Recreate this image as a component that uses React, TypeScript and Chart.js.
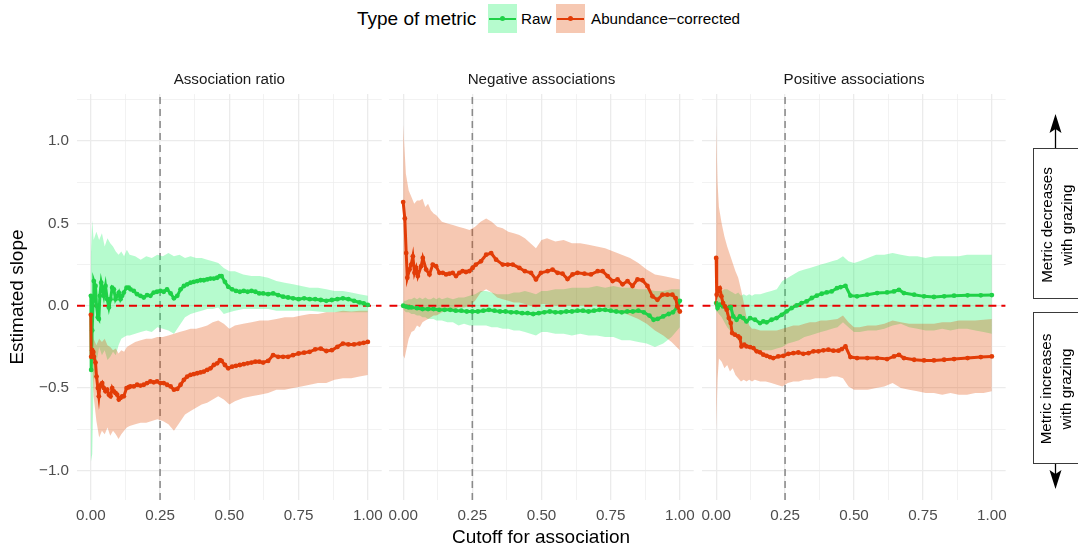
import React, { useEffect, useRef } from 'react';
import { Chart, registerables } from 'chart.js';

Chart.register(...registerables);

const FONT = "'Liberation Sans', Arial, Helvetica, sans-serif";
Chart.defaults.font.family = FONT;

// ---------------- data ----------------
const panelTitles = ['Association ratio', 'Negative associations', 'Positive associations'];
const seriesNames = ['Raw', 'Abundance\u2212corrected'];
const xTickValues = [0, 0.125, 0.25, 0.375, 0.5, 0.625, 0.75, 0.875, 1];
const yTickValues = [-1, -0.75, -0.5, -0.25, 0, 0.25, 0.5, 0.75, 1, 1.25];
const cutoffLine = 0.25;
const zeroLine = 0;

// shared cutoff grid for the confidence ribbons
const ribbonCutoffs = [0, 0.005, 0.01, 0.02, 0.03, 0.04, 0.05, 0.06, 0.07, 0.08, 0.09, 0.1, 0.11, 0.12, 0.13, 0.14, 0.16, 0.18, 0.2, 0.22, 0.24, 0.26, 0.28, 0.3, 0.32, 0.34, 0.36, 0.38, 0.4, 0.42, 0.44, 0.46, 0.48, 0.5, 0.52, 0.55, 0.58, 0.61, 0.64, 0.67, 0.7, 0.73, 0.76, 0.79, 0.82, 0.85, 0.88, 0.91, 0.94, 0.97, 1];

// Panel 1: Association ratio
const ratioCutoffs = [0, 0.0012, 0.0048, 0.0084, 0.0108, 0.0168, 0.0205, 0.0253, 0.0289, 0.0325, 0.0373, 0.0409, 0.0469, 0.0529, 0.059, 0.065, 0.071, 0.077, 0.083, 0.089, 0.095, 0.101, 0.107, 0.113, 0.119, 0.129, 0.137, 0.143, 0.155, 0.167, 0.179, 0.191, 0.203, 0.215, 0.227, 0.239, 0.251, 0.263, 0.275, 0.288, 0.3, 0.312, 0.324, 0.336, 0.348, 0.36, 0.372, 0.384, 0.396, 0.408, 0.42, 0.432, 0.444, 0.456, 0.466, 0.472, 0.484, 0.496, 0.51, 0.524, 0.538, 0.552, 0.566, 0.58, 0.594, 0.608, 0.622, 0.64, 0.658, 0.676, 0.694, 0.712, 0.73, 0.75, 0.77, 0.79, 0.81, 0.83, 0.85, 0.87, 0.89, 0.91, 0.93, 0.95, 0.97, 0.985, 1];
const ratioRaw = [0.06, -0.39, -0.15, 0.03, 0.15, 0.12, 0.0, -0.07, -0.08, 0.06, 0.14, 0.11, 0.06, 0.12, 0.04, -0.01, 0.04, 0.11, 0.1, 0.04, 0.06, 0.08, 0.04, 0.06, 0.08, 0.11, 0.11, 0.1, 0.09, 0.07, 0.06, 0.05, 0.065, 0.06, 0.08, 0.085, 0.09, 0.085, 0.1, 0.075, 0.045, 0.06, 0.1, 0.12, 0.13, 0.14, 0.145, 0.15, 0.155, 0.155, 0.16, 0.165, 0.165, 0.17, 0.18, 0.18, 0.145, 0.115, 0.1, 0.09, 0.085, 0.09, 0.085, 0.09, 0.085, 0.075, 0.075, 0.07, 0.075, 0.065, 0.055, 0.05, 0.045, 0.04, 0.045, 0.04, 0.04, 0.035, 0.03, 0.035, 0.04, 0.045, 0.04, 0.03, 0.02, 0.015, 0.005];
const ratioCorrected = [-0.055, -0.31, -0.27, -0.28, -0.31, -0.345, -0.43, -0.5, -0.55, -0.49, -0.48, -0.47, -0.5, -0.52, -0.51, -0.54, -0.55, -0.5, -0.52, -0.53, -0.54, -0.57, -0.56, -0.55, -0.55, -0.5, -0.495, -0.49, -0.49, -0.48, -0.485, -0.48, -0.47, -0.46, -0.465, -0.46, -0.47, -0.47, -0.48, -0.49, -0.51, -0.505, -0.48, -0.45, -0.43, -0.42, -0.415, -0.41, -0.405, -0.4, -0.39, -0.38, -0.36, -0.35, -0.33, -0.335, -0.36, -0.38, -0.37, -0.365, -0.36, -0.355, -0.35, -0.345, -0.34, -0.34, -0.345, -0.335, -0.3, -0.31, -0.31, -0.31, -0.3, -0.29, -0.285, -0.28, -0.265, -0.26, -0.275, -0.27, -0.25, -0.23, -0.235, -0.235, -0.23, -0.225, -0.22];
const ratioRawUpper = [0.3, 0.52, 0.4, 0.45, 0.4, 0.44, 0.36, 0.41, 0.38, 0.36, 0.33, 0.31, 0.33, 0.3, 0.34, 0.31, 0.3, 0.28, 0.3, 0.29, 0.31, 0.3, 0.32, 0.3, 0.31, 0.29, 0.3, 0.29, 0.29, 0.28, 0.27, 0.26, 0.23, 0.21, 0.21, 0.19, 0.18, 0.18, 0.17, 0.15, 0.14, 0.13, 0.12, 0.11, 0.11, 0.1, 0.09, 0.09, 0.08, 0.07, 0.06];
const ratioRawLower = [-0.95, -0.9, -0.45, -0.35, -0.25, -0.3, -0.27, -0.33, -0.31, -0.28, -0.3, -0.24, -0.2, -0.19, -0.18, -0.18, -0.17, -0.16, -0.15, -0.16, -0.13, -0.14, -0.15, -0.17, -0.12, -0.07, -0.05, -0.04, -0.03, -0.02, -0.02, -0.01, -0.05, -0.04, -0.03, -0.02, -0.02, -0.02, -0.02, -0.03, -0.03, -0.03, -0.03, -0.03, -0.035, -0.04, -0.04, -0.04, -0.04, -0.04, -0.04];
const ratioCorrUpper = [0.0, -0.15, -0.2, -0.24, -0.2, -0.22, -0.2, -0.24, -0.25, -0.27, -0.26, -0.29, -0.27, -0.28, -0.25, -0.24, -0.22, -0.21, -0.2, -0.2, -0.19, -0.19, -0.18, -0.17, -0.16, -0.15, -0.14, -0.14, -0.13, -0.12, -0.1, -0.09, -0.11, -0.14, -0.12, -0.11, -0.1, -0.09, -0.09, -0.08, -0.07, -0.07, -0.06, -0.05, -0.05, -0.04, -0.04, -0.03, -0.035, -0.03, -0.03];
const ratioCorrLower = [-0.1, -0.35, -0.55, -0.7, -0.8, -0.76, -0.78, -0.74, -0.79, -0.76, -0.78, -0.81, -0.78, -0.76, -0.74, -0.73, -0.72, -0.71, -0.71, -0.7, -0.69, -0.7, -0.72, -0.76, -0.71, -0.66, -0.64, -0.62, -0.6, -0.59, -0.57, -0.55, -0.57, -0.6, -0.58, -0.56, -0.55, -0.54, -0.53, -0.51, -0.51, -0.5, -0.49, -0.48, -0.47, -0.47, -0.45, -0.44, -0.44, -0.43, -0.42];

// Panel 2: Negative associations
const negRawCutoffs = [0, 0.01, 0.02, 0.03, 0.05, 0.07, 0.09, 0.11, 0.13, 0.15, 0.17, 0.19, 0.21, 0.23, 0.25, 0.27, 0.29, 0.31, 0.33, 0.35, 0.37, 0.39, 0.41, 0.43, 0.45, 0.47, 0.49, 0.51, 0.53, 0.55, 0.57, 0.59, 0.61, 0.63, 0.65, 0.67, 0.69, 0.71, 0.73, 0.75, 0.77, 0.79, 0.81, 0.83, 0.85, 0.87, 0.89, 0.905, 0.92, 0.94, 0.96, 0.975, 0.99, 1];
const negRaw = [0, -0.005, -0.01, -0.01, -0.015, -0.02, -0.02, -0.02, -0.025, -0.025, -0.025, -0.03, -0.03, -0.035, -0.035, -0.035, -0.03, -0.025, -0.03, -0.035, -0.035, -0.04, -0.04, -0.045, -0.045, -0.05, -0.045, -0.04, -0.035, -0.04, -0.04, -0.035, -0.035, -0.03, -0.03, -0.035, -0.03, -0.025, -0.025, -0.03, -0.035, -0.04, -0.035, -0.035, -0.03, -0.04, -0.06, -0.085, -0.08, -0.065, -0.05, -0.04, -0.01, 0.03];
const negCorrCutoffs = [0, 0.006, 0.011, 0.015, 0.023, 0.029, 0.035, 0.041, 0.047, 0.053, 0.065, 0.071, 0.083, 0.095, 0.107, 0.119, 0.131, 0.143, 0.155, 0.167, 0.179, 0.191, 0.203, 0.215, 0.227, 0.239, 0.251, 0.263, 0.281, 0.3, 0.318, 0.336, 0.36, 0.378, 0.396, 0.42, 0.44, 0.462, 0.48, 0.498, 0.522, 0.54, 0.558, 0.576, 0.594, 0.612, 0.63, 0.655, 0.679, 0.703, 0.721, 0.739, 0.757, 0.775, 0.793, 0.811, 0.829, 0.847, 0.865, 0.883, 0.901, 0.919, 0.937, 0.955, 0.973, 0.985, 0.991, 1];
const negCorrected = [0.63, 0.53, 0.32, 0.17, 0.22, 0.25, 0.3, 0.2, 0.23, 0.18, 0.24, 0.29, 0.22, 0.19, 0.25, 0.24, 0.2, 0.2, 0.19, 0.195, 0.2, 0.18, 0.2, 0.21, 0.205, 0.21, 0.23, 0.25, 0.27, 0.31, 0.32, 0.28, 0.25, 0.25, 0.25, 0.23, 0.21, 0.2, 0.16, 0.2, 0.21, 0.22, 0.2, 0.195, 0.162, 0.19, 0.2, 0.195, 0.19, 0.21, 0.21, 0.18, 0.15, 0.16, 0.13, 0.15, 0.12, 0.16, 0.155, 0.12, 0.057, 0.036, 0.067, 0.067, 0.067, 0.046, -0.004, -0.035];
const negRawUpper = [0.02, 0.03, 0.03, 0.04, 0.04, 0.05, 0.04, 0.05, 0.04, 0.05, 0.04, 0.04, 0.05, 0.04, 0.05, 0.04, 0.05, 0.04, 0.05, 0.05, 0.06, 0.07, 0.09, 0.09, 0.08, 0.07, 0.07, 0.07, 0.08, 0.08, 0.09, 0.08, 0.07, 0.09, 0.09, 0.1, 0.1, 0.11, 0.11, 0.11, 0.12, 0.11, 0.12, 0.11, 0.11, 0.1, 0.1, 0.09, 0.09, 0.1, 0.1];
const negRawLower = [-0.02, -0.03, -0.04, -0.04, -0.05, -0.05, -0.06, -0.06, -0.07, -0.07, -0.08, -0.08, -0.08, -0.09, -0.09, -0.09, -0.1, -0.1, -0.12, -0.11, -0.12, -0.12, -0.12, -0.12, -0.13, -0.13, -0.14, -0.14, -0.15, -0.15, -0.16, -0.17, -0.18, -0.16, -0.16, -0.17, -0.17, -0.18, -0.17, -0.18, -0.18, -0.19, -0.19, -0.21, -0.21, -0.22, -0.23, -0.25, -0.23, -0.19, -0.13];
const negCorrUpper = [1.1, 0.95, 0.8, 0.7, 0.66, 0.62, 0.64, 0.64, 0.65, 0.6, 0.62, 0.58, 0.56, 0.55, 0.53, 0.51, 0.5, 0.49, 0.48, 0.47, 0.46, 0.48, 0.51, 0.53, 0.51, 0.48, 0.47, 0.45, 0.44, 0.43, 0.41, 0.38, 0.35, 0.4, 0.41, 0.39, 0.4, 0.38, 0.38, 0.37, 0.36, 0.35, 0.33, 0.31, 0.29, 0.26, 0.22, 0.19, 0.18, 0.17, 0.16];
const negCorrLower = [-0.3, -0.32, -0.28, -0.2, -0.16, -0.15, -0.12, -0.13, -0.1, -0.09, -0.08, -0.07, -0.06, -0.06, -0.05, -0.04, -0.03, -0.03, -0.01, -0.01, 0, 0.03, 0.08, 0.1, 0.08, 0.05, 0.04, 0.03, 0.02, 0.02, 0.01, 0, -0.01, 0.01, 0.01, 0, 0, 0, 0, 0, 0, -0.01, -0.02, -0.04, -0.06, -0.08, -0.11, -0.15, -0.18, -0.22, -0.27];

// Panel 3: Positive associations
const posRawCutoffs = [0, 0.005, 0.013, 0.025, 0.044, 0.053, 0.062, 0.074, 0.086, 0.098, 0.11, 0.123, 0.141, 0.159, 0.171, 0.183, 0.201, 0.219, 0.238, 0.256, 0.274, 0.292, 0.31, 0.328, 0.347, 0.365, 0.383, 0.401, 0.419, 0.438, 0.451, 0.469, 0.487, 0.511, 0.548, 0.584, 0.62, 0.645, 0.663, 0.681, 0.718, 0.754, 0.79, 0.827, 0.863, 0.912, 0.96, 1];
const posRaw = [0.016, -0.014, 0.006, -0.004, -0.014, -0.008, -0.065, -0.085, -0.065, -0.075, -0.095, -0.075, -0.085, -0.105, -0.095, -0.101, -0.085, -0.075, -0.055, -0.034, -0.014, 0.002, 0.016, 0.026, 0.047, 0.061, 0.073, 0.081, 0.087, 0.107, 0.113, 0.121, 0.061, 0.057, 0.067, 0.077, 0.081, 0.087, 0.097, 0.077, 0.067, 0.057, 0.053, 0.057, 0.061, 0.063, 0.063, 0.065];
const posCorrCutoffs = [0, 0.002, 0.007, 0.013, 0.019, 0.025, 0.032, 0.038, 0.046, 0.053, 0.058, 0.068, 0.08, 0.086, 0.092, 0.102, 0.11, 0.123, 0.135, 0.147, 0.159, 0.171, 0.183, 0.195, 0.207, 0.225, 0.244, 0.262, 0.28, 0.298, 0.316, 0.335, 0.353, 0.371, 0.389, 0.407, 0.425, 0.444, 0.456, 0.469, 0.487, 0.511, 0.548, 0.584, 0.62, 0.645, 0.663, 0.681, 0.718, 0.754, 0.79, 0.827, 0.863, 0.912, 0.96, 1];
const posCorrected = [0.29, 0.067, 0.097, 0.107, 0.057, 0.016, -0.004, -0.024, -0.075, -0.105, -0.166, -0.176, -0.186, -0.196, -0.247, -0.237, -0.247, -0.251, -0.257, -0.277, -0.283, -0.297, -0.304, -0.312, -0.318, -0.308, -0.304, -0.292, -0.288, -0.284, -0.292, -0.288, -0.277, -0.277, -0.271, -0.267, -0.273, -0.273, -0.263, -0.247, -0.312, -0.318, -0.318, -0.318, -0.324, -0.308, -0.298, -0.318, -0.328, -0.332, -0.332, -0.328, -0.324, -0.318, -0.312, -0.308];
const posRawUpper = [0.06, 0.08, 0.07, 0.09, 0.1, 0.1, 0.09, 0.08, 0.07, 0.08, 0.06, 0.07, 0.06, 0.07, 0.06, 0.07, 0.07, 0.08, 0.09, 0.1, 0.15, 0.17, 0.19, 0.21, 0.22, 0.23, 0.24, 0.25, 0.26, 0.27, 0.28, 0.3, 0.27, 0.26, 0.27, 0.29, 0.31, 0.31, 0.32, 0.31, 0.3, 0.3, 0.29, 0.3, 0.3, 0.3, 0.3, 0.31, 0.31, 0.31, 0.31];
const posRawLower = [-0.03, -0.04, -0.05, -0.07, -0.1, -0.13, -0.15, -0.17, -0.19, -0.21, -0.23, -0.24, -0.25, -0.26, -0.26, -0.27, -0.27, -0.27, -0.27, -0.26, -0.25, -0.23, -0.22, -0.21, -0.19, -0.18, -0.17, -0.16, -0.15, -0.14, -0.13, -0.1, -0.13, -0.16, -0.16, -0.15, -0.15, -0.14, -0.12, -0.11, -0.13, -0.14, -0.15, -0.15, -0.14, -0.15, -0.14, -0.14, -0.15, -0.16, -0.17];
const posCorrUpper = [1.1, 0.75, 0.6, 0.5, 0.42, 0.36, 0.31, 0.26, 0.21, 0.17, 0.1, 0.02, -0.07, -0.12, -0.14, -0.14, -0.15, -0.15, -0.15, -0.15, -0.14, -0.13, -0.12, -0.12, -0.11, -0.1, -0.1, -0.09, -0.09, -0.085, -0.08, -0.06, -0.1, -0.13, -0.13, -0.12, -0.12, -0.11, -0.09, -0.1, -0.11, -0.11, -0.11, -0.11, -0.1, -0.1, -0.09, -0.09, -0.09, -0.085, -0.08];
const posCorrLower = [-0.75, -0.45, -0.32, -0.34, -0.38, -0.36, -0.4, -0.38, -0.42, -0.44, -0.46, -0.45, -0.46, -0.45, -0.46, -0.45, -0.46, -0.46, -0.47, -0.48, -0.49, -0.47, -0.46, -0.46, -0.45, -0.45, -0.44, -0.44, -0.44, -0.43, -0.43, -0.44, -0.49, -0.51, -0.51, -0.51, -0.5, -0.49, -0.47, -0.5, -0.51, -0.52, -0.53, -0.53, -0.54, -0.53, -0.54, -0.54, -0.53, -0.53, -0.52];

// ---------------- styling ----------------
const X_MIN = -0.05;
const X_MAX = 1.05;
const Y_MIN = -1.18;
const Y_MAX = 1.286;
const GREEN = '#1fd147';
const ORANGE = '#e23c07';
const GREEN_FILL = 'rgba(12, 242, 92, 0.30)';
const ORANGE_FILL = 'rgba(226, 72, 0, 0.30)';
const GRID = '#ebebeb';

type PanelSpec = {
  title: string;
  rawX: number[]; rawY: number[];
  corrX: number[]; corrY: number[];
  rawLo: number[]; rawHi: number[];
  corrLo: number[]; corrHi: number[];
};

const panels: PanelSpec[] = [
  { title: panelTitles[0], rawX: ratioCutoffs, rawY: ratioRaw, corrX: ratioCutoffs, corrY: ratioCorrected, rawLo: ratioRawLower, rawHi: ratioRawUpper, corrLo: ratioCorrLower, corrHi: ratioCorrUpper },
  { title: panelTitles[1], rawX: negRawCutoffs, rawY: negRaw, corrX: negCorrCutoffs, corrY: negCorrected, rawLo: negRawLower, rawHi: negRawUpper, corrLo: negCorrLower, corrHi: negCorrUpper },
  { title: panelTitles[2], rawX: posRawCutoffs, rawY: posRaw, corrX: posCorrCutoffs, corrY: posCorrected, rawLo: posRawLower, rawHi: posRawUpper, corrLo: posCorrLower, corrHi: posCorrUpper },
];

const pts = (xs: number[], ys: number[]) => xs.map((x, i) => ({ x, y: ys[i] }));
const isMajor = (v: number, step: number) => Math.abs(v / step - Math.round(v / step)) < 1e-9;
const fmtY = (v: number) => v.toFixed(1).replace('-', '\u2212');

function Panel({ spec, left, width, padL, padR, first }: { spec: PanelSpec; left: number; width: number; padL: number; padR: number; first: boolean }) {
  const ref = useRef<HTMLCanvasElement>(null);
  useEffect(() => {
    const lineDs = (label: string, xs: number[], ys: number[], color: string, order: number) => ({
      label, data: pts(xs, ys), borderColor: color, backgroundColor: color,
      borderWidth: 3, pointRadius: 2.4, pointHoverRadius: 2.4, pointBorderWidth: 0,
      pointBackgroundColor: color, fill: false, tension: 0, order,
    });
    const bandDs = (label: string, ys: number[], fill: any, color: string, order: number) => ({
      label, data: pts(ribbonCutoffs, ys), borderColor: 'rgba(0,0,0,0)', borderWidth: 0.001,
      pointRadius: 0, fill, backgroundColor: color, tension: 0, order,
    });
    const chart = new Chart(ref.current!, {
      type: 'line',
      data: {
        datasets: [
          { label: 'cutoff', data: [{ x: cutoffLine, y: Y_MIN }, { x: cutoffLine, y: Y_MAX }], borderColor: 'rgba(105,105,105,0.75)', borderWidth: 1.6, borderDash: [7, 5], pointRadius: 0, fill: false, order: 8 } as any,
          bandDs('raw lower', spec.rawLo, false, 'rgba(0,0,0,0)', 7),
          bandDs('raw upper', spec.rawHi, '-1', GREEN_FILL, 6),
          bandDs('corr lower', spec.corrLo, false, 'rgba(0,0,0,0)', 5),
          bandDs('corr upper', spec.corrHi, '-1', ORANGE_FILL, 4),
          { label: 'zero', data: [{ x: X_MIN, y: zeroLine }, { x: X_MAX, y: zeroLine }], borderColor: '#e80000', borderWidth: 1.9, borderDash: [8, 5], pointRadius: 0, fill: false, order: 3 } as any,
          lineDs(seriesNames[0], spec.rawX, spec.rawY, GREEN, 2),
          lineDs(seriesNames[1], spec.corrX, spec.corrY, ORANGE, 1),
        ],
      },
      options: {
        animation: false,
        responsive: false,
        maintainAspectRatio: false,
        events: [],
        layout: { padding: { left: padL, right: padR, top: 0, bottom: 0 } },
        plugins: {
          legend: { display: false },
          tooltip: { enabled: false },
          title: {
            display: true, text: spec.title, fullSize: false, color: '#1a1a1a',
            font: { size: 15.2, weight: 'normal', family: FONT },
            padding: { top: 15, bottom: 4.8 },
          },
        },
        scales: {
          x: {
            type: 'linear', min: X_MIN, max: X_MAX,
            afterBuildTicks: (s: any) => { s.ticks = xTickValues.map((v) => ({ value: v })); },
            afterFit: (s: any) => { s.height = 52; },
            ticks: {
              autoSkip: false, maxRotation: 0, padding: 7, color: '#4d4d4d',
              font: { size: 15.2, family: FONT },
              callback: (v: any) => (isMajor(Number(v), 0.25) ? Number(v).toFixed(2) : ''),
            },
            grid: { color: GRID, drawTicks: false, lineWidth: (c: any) => (isMajor(c.tick?.value ?? 0, 0.25) ? 1.3 : 0.65) },
            border: { display: false },
          },
          y: {
            type: 'linear', min: Y_MIN, max: Y_MAX,
            afterBuildTicks: (s: any) => { s.ticks = yTickValues.map((v) => ({ value: v })); },
            afterFit: (s: any) => { s.width = first ? 77 : 0; },
            ticks: {
              display: first, autoSkip: false, padding: 8, color: '#4d4d4d',
              font: { size: 15.2, family: FONT },
              callback: (v: any) => (isMajor(Number(v), 0.5) ? fmtY(Number(v)) : ''),
            },
            title: first
              ? { display: true, text: 'Estimated slope', color: '#000', font: { size: 19, family: FONT }, padding: { top: 6, bottom: 0 } }
              : { display: false },
            grid: { color: GRID, drawTicks: false, lineWidth: (c: any) => (isMajor(c.tick?.value ?? 0, 0.5) ? 1.3 : 0.65) },
            border: { display: false },
          },
        },
      } as any,
    });
    return () => chart.destroy();
  }, []);
  return (
    <canvas
      ref={ref}
      width={width}
      height={496}
      style={{ position: 'absolute', left, top: 56, width, height: 496 }}
    />
  );
}

function LegendKey({ left, fill, color }: { left: number; fill: string; color: string }) {
  return (
    <div style={{ position: 'absolute', left, top: 4, width: 29, height: 29, background: fill }}>
      <div style={{ position: 'absolute', left: 1, right: 1, top: 13.5, height: 2.4, background: color }} />
      <div style={{ position: 'absolute', left: 12, top: 12, width: 5.4, height: 5.4, borderRadius: '50%', background: color }} />
    </div>
  );
}

function NoteBox({ top, height, lines }: { top: number; height: number; lines: string[] }) {
  return (
    <div style={{ position: 'absolute', left: 1033, top, width: 60, height, border: '1.2px solid #3a3a3a', boxSizing: 'border-box', background: '#fff' }}>
      <div
        style={{
          position: 'absolute', left: 22 - height / 2, top: height / 2 - 22, width: height, height: 44,
          transform: 'rotate(-90deg)', textAlign: 'center', fontSize: 15.2, lineHeight: '20px',
          color: '#000', display: 'flex', flexDirection: 'column', justifyContent: 'center',
        }}
      >
        {lines.map((l) => (
          <div key={l}>{l}</div>
        ))}
      </div>
    </div>
  );
}

export default function App() {
  return (
    <div style={{ position: 'absolute', left: 0, top: 0, width: 1078, height: 552, overflow: 'hidden', background: '#fff', fontFamily: FONT }}>
      <Panel spec={panels[0]} left={0} width={390} padL={0} padR={8} first={true} />
      <Panel spec={panels[1]} left={381} width={321} padL={8} padR={8} first={false} />
      <Panel spec={panels[2]} left={694} width={320} padL={8} padR={6} first={false} />

      {/* legend */}
      <div style={{ position: 'absolute', left: 357, top: 4, height: 29, display: 'flex', alignItems: 'center', fontSize: 19, color: '#000', whiteSpace: 'nowrap' }}>Type of metric</div>
      <LegendKey left={488} fill={GREEN_FILL} color={GREEN} />
      <div style={{ position: 'absolute', left: 521, top: 4, height: 29, display: 'flex', alignItems: 'center', fontSize: 15.2, color: '#000', whiteSpace: 'nowrap' }}>{seriesNames[0]}</div>
      <LegendKey left={556} fill={ORANGE_FILL} color={ORANGE} />
      <div style={{ position: 'absolute', left: 591, top: 4, height: 29, display: 'flex', alignItems: 'center', fontSize: 15.2, color: '#000', whiteSpace: 'nowrap' }}>{seriesNames[1]}</div>

      {/* x axis title */}
      <div style={{ position: 'absolute', left: 341, width: 400, top: 525, textAlign: 'center', fontSize: 19, color: '#000', lineHeight: '24px' }}>Cutoff for association</div>

      {/* right-hand annotations */}
      <svg width={1078} height={552} style={{ position: 'absolute', left: 0, top: 0, pointerEvents: 'none' }}>
        <line x1={1055.5} y1={148} x2={1055.5} y2={124} stroke="#000" strokeWidth={1.3} />
        <polygon points="1055.5,114 1061.5,133 1055.5,129 1049.5,133" fill="#000" />
        <line x1={1055.5} y1={464} x2={1055.5} y2={480} stroke="#000" strokeWidth={1.3} />
        <polygon points="1055.5,489 1061.5,470 1055.5,474 1049.5,470" fill="#000" />
      </svg>
      <NoteBox top={148} height={151} lines={['Metric decreases', 'with grazing']} />
      <NoteBox top={312} height={152} lines={['Metric increases', 'with grazing']} />
    </div>
  );
}
